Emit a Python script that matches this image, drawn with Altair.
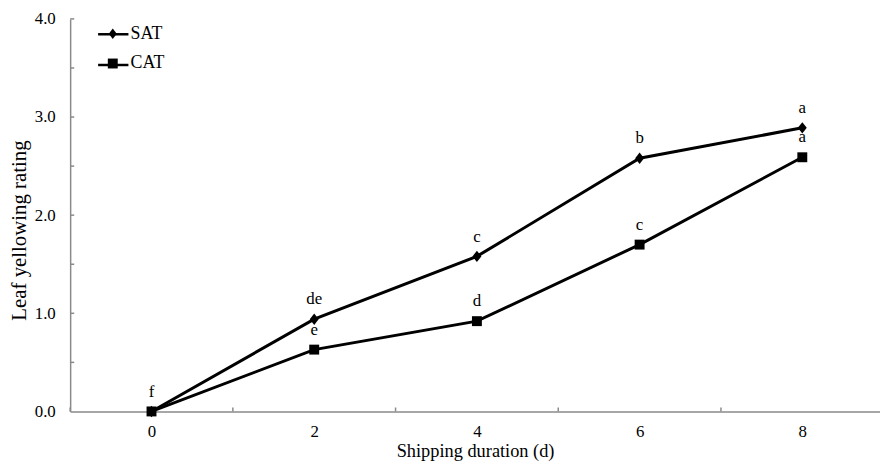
import altair as alt
import pandas as pd

days = [0, 2, 4, 6, 8]
sat = [0.0, 0.94, 1.58, 2.58, 2.89]
cat = [0.0, 0.63, 0.92, 1.70, 2.59]
sat_letters = ["f", "de", "c", "b", "a"]
cat_letters = ["", "e", "d", "c", "a"]
series_names = ["SAT", "CAT"]
x_tick_pos = [-1, 1, 3, 5, 7]
y_tick_pos = [0.5, 1.0, 1.5, 2.0, 2.5, 3.0, 3.5, 4.0]
x_labels = [0, 2, 4, 6, 8]
y_labels = [0, 1, 2, 3, 4]

FONT = "Liberation Serif"
GRAY = "#8a8a8a"

rows = []
for d, v, l in zip(days, sat, sat_letters):
    rows.append({"day": d, "value": v, "series": "SAT", "letter": l})
for d, v, l in zip(days, cat, cat_letters):
    rows.append({"day": d, "value": v, "series": "CAT", "letter": l})
df = pd.DataFrame(rows)

xt = pd.DataFrame({"x": x_tick_pos, "y": 0.0, "y2": 0.04})
yt = pd.DataFrame({"y": y_tick_pos, "x": -1.0, "x2": -0.95})

xscale = alt.Scale(domain=[-1, 8.955], nice=False, zero=False)
yscale = alt.Scale(domain=[0, 4], nice=False)

xaxis = alt.Axis(values=x_labels, format="d", tickSize=0, grid=False, domainColor=GRAY,
                 domainWidth=1.5, labelFont=FONT, labelFontSize=17, labelColor="black",
                 labelPadding=12, title="Shipping duration (d)", titleFont=FONT,
                 titleFontSize=18.5, titleFontWeight="normal", titleColor="black",
                 titleBaseline="alphabetic", titleY=45)
yaxis = alt.Axis(values=y_labels, format=".1f", tickSize=0, grid=False, domainColor=GRAY,
                 domainWidth=1.5, labelFont=FONT, labelFontSize=17, labelColor="black",
                 labelPadding=15, title="Leaf yellowing rating", titleFont=FONT,
                 titleFontSize=21, titleFontWeight="normal", titleColor="black",
                 titleBaseline="middle", titleAngle=270, titleX=-51, titleY=213)

xticks = alt.Chart(xt).mark_rule(color=GRAY, strokeWidth=1.5).encode(
    x=alt.X("x:Q", scale=xscale, axis=xaxis),
    y=alt.Y("y:Q", scale=yscale, axis=yaxis),
    y2="y2:Q",
)
yticks = alt.Chart(yt).mark_rule(color=GRAY, strokeWidth=1.5).encode(
    x=alt.X("x:Q", scale=xscale, axis=xaxis),
    x2="x2:Q",
    y=alt.Y("y:Q", scale=yscale, axis=yaxis),
)

base = alt.Chart(df).encode(
    x=alt.X("day:Q", scale=xscale, axis=xaxis),
    y=alt.Y("value:Q", scale=yscale, axis=yaxis),
)

LEG_X, LEG_Y, LEG_ROW = 32, 4, 10
leg_line = "M-1.53,0H1.53"

lines = base.mark_line(strokeWidth=3).encode(
    color=alt.Color(
        "series:N",
        scale=alt.Scale(domain=series_names, range=["black", "black"]),
        legend=alt.Legend(
            title=None, orient="none", legendX=LEG_X, legendY=LEG_Y, padding=0,
            symbolType=leg_line, symbolSize=400, symbolStrokeWidth=2.5,
            labelFont=FONT, labelFontSize=18, labelColor="black", labelOffset=7,
            labelOpacity=0, rowPadding=LEG_ROW,
        ),
    )
)

diamond = "M0,-1.15L0.9,0L0,1.15L-0.9,0Z"
square = "M-1,-1H1V1H-1Z"
leg_diamond = "M0,-0.52L0.4,0L0,0.52L-0.4,0Z"
leg_square = "M-0.5,-0.5H0.5V0.5H-0.5Z"

points = base.mark_point(filled=True, color="black", opacity=1, size=100).encode(
    shape=alt.Shape("series:N", scale=alt.Scale(domain=series_names, range=[diamond, square]),
                    legend=None)
)

legend_layer = base.mark_point(filled=True, color="black", opacity=1).encode(
    shape=alt.Shape(
        "series:N",
        scale=alt.Scale(domain=series_names, range=[leg_diamond, leg_square]),
        legend=alt.Legend(
            title=None, orient="none", legendX=LEG_X, legendY=LEG_Y, padding=0,
            symbolSize=400, symbolFillColor="black", symbolOpacity=1,
            labelFont=FONT, labelFontSize=18, labelColor="black", labelOffset=7,
            rowPadding=LEG_ROW,
        ),
    )
).transform_filter("false")

labels = base.mark_text(font=FONT, fontSize=17, color="black", baseline="middle", dy=-20).encode(
    text="letter:N"
)

chart = alt.layer(xticks, yticks, lines, points, legend_layer, labels).resolve_scale(
    shape="independent", color="independent"
).properties(
    width=817, height=396,
    autosize=alt.AutoSizeParams(type="none"),
    padding={"left": 62.7, "top": 9, "right": 0, "bottom": 48},
).configure_view(stroke=None).configure_axis(
    labelFont=FONT, titleFont=FONT
).configure_legend(labelFont=FONT).configure_text(font=FONT)

chart.save("out.html", embed_options={"renderer": "svg", "actions": False})
